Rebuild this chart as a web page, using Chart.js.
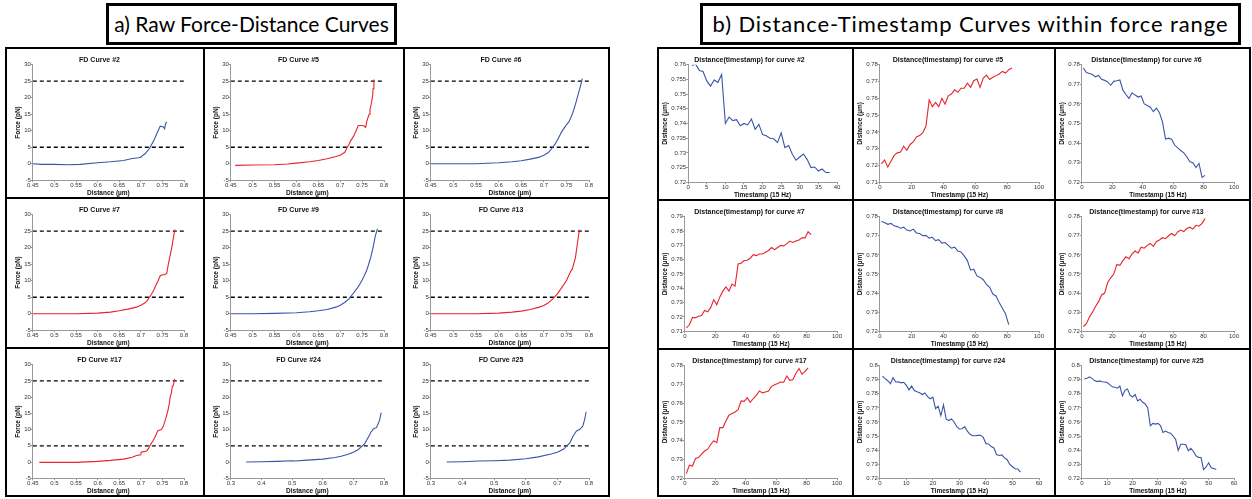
<!DOCTYPE html>
<html>
<head>
<meta charset="utf-8">
<script src="https://cdn.jsdelivr.net/npm/chart.js@4.4.1/dist/chart.umd.min.js"></script>
<style>
  body { margin: 0; background: #fff; width: 1252px; height: 499px; position: relative; overflow: hidden; }
  .head { position: absolute; top: 3px; height: 36px; border: 3px solid #000; font-family: Lato, "Open Sans", sans-serif; font-size: 21px; line-height: 36px; text-align: center; color: #000; white-space: nowrap; }
  .grid { position: absolute; top: 47px; display: grid; gap: 2px; border: 2px solid #000; background: #000; }
  .cell { background: #fff; position: relative; }
  .cell canvas { position: absolute; left: 0; top: 0; }
</style>
</head>
<body>
<div class="head" style="left:106px;width:285px">a) Raw Force-Distance Curves</div>
<div class="head" style="left:700px;width:535px;font-size:22px;letter-spacing:0.9px">b) Distance-Timestamp Curves within force range</div>
<div class="grid" id="left" style="left:5px;grid-template-columns:196px 198px 203px;grid-template-rows:148px 148px 146px"></div>
<div class="grid" id="right" style="left:657px;grid-template-columns:193px 200px 193px;grid-template-rows:150px 147px 145px"></div>
<script>
// force limits (dashed lines)
const forceLimits = [5, 25];

// raw force-distance curves: distance (um) / force (pN)
const fd2Dist = [0.45,0.47,0.50,0.53,0.56,0.60,0.63,0.66,0.68,0.695,0.70,0.705,0.71,0.715,0.72,0.725,0.73,0.735,0.74,0.745,0.75,0.752,0.755,0.757,0.76];
const fd2Force = [0,-0.2,-0.2,-0.3,-0.2,0.3,0.6,1.0,1.6,1.8,2.0,2.6,3.0,3.8,4.6,5.8,7.0,8.5,10.0,11.4,11.2,11.2,10.6,12.0,12.7];
const fd5Dist = [0.46,0.50,0.55,0.58,0.60,0.63,0.65,0.67,0.69,0.70,0.705,0.71,0.716,0.72,0.724,0.73,0.735,0.741,0.745,0.75,0.754,0.758,0.761,0.764,0.766,0.768,0.77,0.772,0.774,0.775,0.777];
const fd5Force = [-0.5,-0.4,-0.3,-0.1,0.2,0.6,1.0,1.5,2.2,2.6,3.0,3.4,5.0,5.8,7.0,8.2,9.6,11.5,11.6,11.6,11.5,11.0,13.0,14.2,15.0,16.5,17.5,19.0,20.5,22.7,25.5];
const fd6Dist = [0.45,0.50,0.55,0.60,0.63,0.65,0.67,0.69,0.70,0.71,0.72,0.725,0.73,0.735,0.74,0.745,0.75,0.755,0.76,0.765,0.77,0.773,0.776,0.78,0.783,0.785];
const fd6Force = [0,0,0,0.3,0.6,0.9,1.4,2.0,2.6,3.4,5.0,6.0,7.2,8.5,9.8,10.8,11.8,12.6,14.0,15.8,18.0,19.5,21.0,23.0,24.5,25.8];
const fd7Dist = [0.45,0.50,0.55,0.60,0.63,0.65,0.67,0.69,0.70,0.71,0.715,0.72,0.725,0.73,0.735,0.74,0.745,0.75,0.755,0.76,0.763,0.766,0.77,0.773,0.776,0.779];
const fd7Force = [0,0,0,0.2,0.5,0.9,1.4,2.0,2.6,3.3,4.0,5.0,6.0,7.2,8.6,10.0,11.5,11.8,11.8,12.2,14.5,16.5,19.0,21.0,23.5,25.5];
const fd9Dist = [0.45,0.50,0.55,0.60,0.63,0.65,0.67,0.69,0.70,0.71,0.72,0.73,0.74,0.745,0.75,0.755,0.76,0.765,0.77,0.775,0.78,0.783,0.785];
const fd9Force = [0,0,0.1,0.3,0.6,0.9,1.3,2.0,2.6,3.4,4.5,6.2,8.0,9.0,10.2,11.5,13.0,15.0,17.2,20.0,23.5,24.8,25.8];
const fd13Dist = [0.45,0.50,0.55,0.60,0.63,0.65,0.67,0.69,0.70,0.71,0.72,0.73,0.74,0.75,0.755,0.76,0.763,0.766,0.77,0.773,0.776,0.779];
const fd13Force = [0,0,0,0.2,0.5,0.8,1.3,2.0,2.5,3.3,4.5,6.0,8.0,10.0,11.5,13.0,13.5,15.0,17.0,20.0,23.0,25.5];
const fd17Dist = [0.465,0.50,0.55,0.60,0.63,0.66,0.68,0.69,0.70,0.701,0.708,0.714,0.718,0.722,0.728,0.733,0.737,0.74,0.745,0.748,0.752,0.755,0.759,0.763,0.766,0.768,0.771,0.773,0.775,0.778];
const fd17Force = [-0.1,-0.1,-0.1,0.2,0.5,0.9,1.5,2.0,2.2,3.1,3.2,3.5,4.2,5.3,6.5,7.7,9.0,9.7,9.9,10.0,11.0,12.2,14.0,16.0,18.0,20.0,21.5,23.4,23.5,25.6];
const fd24Dist = [0.35,0.40,0.45,0.50,0.51,0.55,0.60,0.64,0.66,0.683,0.70,0.715,0.725,0.737,0.745,0.753,0.757,0.761,0.765,0.77,0.775,0.778,0.782,0.786,0.789,0.791];
const fd24Force = [0,0.1,0.2,0.4,0.3,0.6,0.9,1.4,1.8,2.4,3.0,3.8,4.6,5.7,7.0,8.3,9.2,9.6,10.2,10.4,10.6,11.2,12.0,13.0,14.5,15.2];
const fd25Dist = [0.35,0.40,0.45,0.50,0.55,0.60,0.64,0.68,0.70,0.72,0.73,0.74,0.745,0.75,0.755,0.76,0.765,0.77,0.775,0.78,0.783,0.786,0.789,0.791];
const fd25Force = [0,0.1,0.3,0.4,0.6,1.0,1.6,2.5,3.0,4.0,5.0,6.0,7.0,8.0,8.8,9.5,9.8,10.0,10.5,11.0,12.0,13.0,14.5,15.5];

// distance (um) per timestamp; first sample at t = 1, sampled every `step` timestamps
const ts2 = [0.7597,0.7602,0.7580,0.7577,0.7545,0.7527,0.7548,0.7540,0.7567,0.7400,0.7422,0.7410,0.7413,0.7392,0.7400,0.7395,0.7415,0.7380,0.7397,0.7362,0.7358,0.7350,0.7348,0.7335,0.7368,0.7318,0.7325,0.7295,0.7275,0.7286,0.7296,0.7277,0.7250,0.7252,0.7238,0.7245,0.7233,0.7233];
const ts5 = [0.7210,0.7232,0.7190,0.7225,0.7260,0.7275,0.7280,0.7315,0.7290,0.7325,0.7340,0.7370,0.7378,0.7395,0.7435,0.7590,0.7550,0.7575,0.7550,0.7600,0.7565,0.7615,0.7625,0.7650,0.7636,0.7660,0.7660,0.7690,0.7665,0.7705,0.7715,0.7665,0.7720,0.7738,0.7712,0.7725,0.7735,0.7745,0.7760,0.7750,0.7770,0.7780];
const ts6 = [0.7783,0.7760,0.7755,0.7750,0.7738,0.7745,0.7725,0.7720,0.7712,0.7695,0.7715,0.7718,0.7722,0.7670,0.7648,0.7628,0.7657,0.7645,0.7635,0.7640,0.7600,0.7592,0.7583,0.7560,0.7578,0.7555,0.7508,0.7420,0.7425,0.7420,0.7390,0.7375,0.7362,0.7350,0.7330,0.7305,0.7300,0.7275,0.7296,0.7225,0.7235];
const ts7 = [0.7123,0.7145,0.7195,0.7195,0.7205,0.7210,0.7245,0.7236,0.7265,0.7320,0.7285,0.7340,0.7380,0.7410,0.7380,0.7430,0.7415,0.7570,0.7575,0.7594,0.7596,0.7610,0.7635,0.7628,0.7639,0.7640,0.7652,0.7664,0.7685,0.7670,0.7685,0.7700,0.7696,0.7712,0.7730,0.7720,0.7730,0.7738,0.7752,0.7752,0.7795,0.7775];
const ts8 = [0.7775,0.7770,0.7760,0.7765,0.7752,0.7748,0.7740,0.7745,0.7730,0.7725,0.7735,0.7715,0.7712,0.7700,0.7702,0.7688,0.7692,0.7675,0.7680,0.7662,0.7665,0.7650,0.7635,0.7640,0.7620,0.7615,0.7595,0.7570,0.7520,0.7525,0.7490,0.7482,0.7470,0.7445,0.7430,0.7395,0.7385,0.7350,0.7320,0.7290,0.7235];
const ts13 = [0.7225,0.7240,0.7275,0.7300,0.7330,0.7355,0.7390,0.7400,0.7455,0.7480,0.7500,0.7550,0.7545,0.7570,0.7590,0.7580,0.7605,0.7620,0.7610,0.7640,0.7635,0.7650,0.7660,0.7645,0.7670,0.7678,0.7690,0.7685,0.7700,0.7712,0.7700,0.7720,0.7730,0.7722,0.7738,0.7745,0.7735,0.7755,0.7750,0.7765,0.7790];
const ts17 = [0.7225,0.7270,0.7265,0.7305,0.7310,0.7328,0.7345,0.7355,0.7380,0.7400,0.7390,0.7470,0.7470,0.7505,0.7536,0.7545,0.7553,0.7565,0.7612,0.7610,0.7630,0.7605,0.7625,0.7642,0.7665,0.7655,0.7660,0.7665,0.7690,0.7699,0.7705,0.7713,0.7712,0.7745,0.7722,0.7725,0.7760,0.7785,0.7755,0.7770,0.7788];
const ts24 = [0.7926,0.7908,0.7893,0.7872,0.7915,0.7884,0.7886,0.7878,0.7882,0.7860,0.7828,0.7855,0.7824,0.7815,0.7808,0.7795,0.7806,0.7780,0.7765,0.7776,0.7695,0.7712,0.7645,0.7722,0.7620,0.7610,0.7622,0.7600,0.7566,0.7550,0.7552,0.7566,0.7535,0.7512,0.7502,0.7502,0.7505,0.7506,0.7490,0.7446,0.7444,0.7425,0.7415,0.7368,0.7362,0.7366,0.7345,0.7332,0.7298,0.7282,0.7268,0.7266,0.7244];
const ts25 = [0.7905,0.7910,0.7920,0.7910,0.7894,0.7887,0.7892,0.7886,0.7884,0.7880,0.7865,0.7850,0.7847,0.7840,0.7855,0.7785,0.7825,0.7835,0.7790,0.7778,0.7795,0.7750,0.7762,0.7740,0.7728,0.7700,0.7572,0.7590,0.7585,0.7590,0.7575,0.7525,0.7535,0.7525,0.7520,0.7500,0.7475,0.7398,0.7442,0.7442,0.7438,0.7395,0.7412,0.7390,0.7360,0.7348,0.7347,0.7262,0.7280,0.7310,0.7275,0.7270,0.7262];

const BLUE = '#3b55a6';
const RED = '#e8232b';
const FONT = '"Liberation Sans Narrow", "Liberation Sans", Arial, sans-serif';

const fdPanels = [
  { n: 2, x: fd2Dist, y: fd2Force, color: BLUE, xr: [0.45, 0.8, 0.05] },
  { n: 5, x: fd5Dist, y: fd5Force, color: RED, xr: [0.45, 0.8, 0.05] },
  { n: 6, x: fd6Dist, y: fd6Force, color: BLUE, xr: [0.45, 0.8, 0.05] },
  { n: 7, x: fd7Dist, y: fd7Force, color: RED, xr: [0.45, 0.8, 0.05] },
  { n: 9, x: fd9Dist, y: fd9Force, color: BLUE, xr: [0.45, 0.8, 0.05] },
  { n: 13, x: fd13Dist, y: fd13Force, color: RED, xr: [0.45, 0.8, 0.05] },
  { n: 17, x: fd17Dist, y: fd17Force, color: RED, xr: [0.45, 0.8, 0.05] },
  { n: 24, x: fd24Dist, y: fd24Force, color: BLUE, xr: [0.3, 0.8, 0.1] },
  { n: 25, x: fd25Dist, y: fd25Force, color: BLUE, xr: [0.3, 0.8, 0.1] }
];

const tsPanels = [
  { n: 2, y: ts2, step: 1, color: BLUE, xr: [0, 40, 5], yr: [0.72, 0.76, 0.005] },
  { n: 5, y: ts5, step: 2, color: RED, xr: [0, 100, 20], yr: [0.71, 0.78, 0.01] },
  { n: 6, y: ts6, step: 2, color: BLUE, xr: [0, 100, 20], yr: [0.72, 0.78, 0.01] },
  { n: 7, y: ts7, step: 2, color: RED, xr: [0, 100, 20], yr: [0.71, 0.79, 0.01] },
  { n: 8, y: ts8, step: 2, color: BLUE, xr: [0, 100, 20], yr: [0.72, 0.78, 0.01] },
  { n: 13, y: ts13, step: 2, color: RED, xr: [0, 100, 20], yr: [0.72, 0.78, 0.01] },
  { n: 17, y: ts17, step: 2, color: RED, xr: [0, 100, 20], yr: [0.72, 0.78, 0.01] },
  { n: 24, y: ts24, step: 1, color: BLUE, xr: [0, 60, 10], yr: [0.72, 0.8, 0.01] },
  { n: 25, y: ts25, step: 1, color: BLUE, xr: [0, 60, 10], yr: [0.72, 0.8, 0.01] }
];

const fmt = v => String(+(+v).toFixed(4));

function axis(range, label, pad) {
  return {
    type: 'linear', min: range[0], max: range[1],
    ticks: { stepSize: range[2], font: { family: FONT, size: 6, lineHeight: 1.1 }, color: '#333', padding: 0,
             maxRotation: 0, autoSkip: false, callback: fmt },
    grid: { display: true, drawOnChartArea: false, tickLength: 2, color: '#999' },
    border: { color: '#999' },
    title: { display: true, text: label, color: '#111', font: { family: FONT, size: 6.5, weight: 'bold', lineHeight: 1.1 }, padding: pad }
  };
}

function makeCell(grid) {
  const cell = document.createElement('div');
  cell.className = 'cell';
  grid.appendChild(cell);
  return cell;
}

function draw(cell, title, datasets, xAxis, yAxis, padding) {
  const c = document.createElement('canvas');
  cell.appendChild(c);
  c.width = cell.clientWidth;
  c.height = cell.clientHeight;
  new Chart(c, {
    type: 'line',
    data: { datasets },
    options: {
      responsive: false, animation: false,
      layout: { padding },
      elements: { point: { radius: 0 }, line: { tension: 0 } },
      plugins: {
        legend: { display: false }, tooltip: { enabled: false },
        title: { display: true, text: title, color: '#111', font: { family: FONT, size: 7, weight: 'bold', lineHeight: 1.1 }, padding: { top: 7, bottom: 1 } }
      },
      scales: { x: xAxis, y: yAxis }
    }
  });
}

const leftGrid = document.getElementById('left');
fdPanels.forEach(p => {
  const cell = makeCell(leftGrid);
  const pts = p.x.map((d, i) => ({ x: d, y: p.y[i] }));
  const sets = [{ data: pts, borderColor: p.color, borderWidth: 1.1 }];
  forceLimits.forEach(f => {
    sets.push({ data: [{ x: p.xr[0], y: f }, { x: p.xr[1], y: f }], borderColor: '#000', borderWidth: 1.3, borderDash: [4, 3] });
  });
  draw(cell, 'FD Curve #' + p.n, sets,
       axis(p.xr, 'Distance (\u00b5m)', { top: 1, bottom: 0 }),
       axis([-5, 30, 5], 'Force (pN)', { top: 0, bottom: 2 }),
       { left: 8, right: 19, top: 0, bottom: 0 });
});

const rightGrid = document.getElementById('right');
tsPanels.forEach(p => {
  const cell = makeCell(rightGrid);
  const pts = p.y.map((d, i) => ({ x: 1 + i * p.step, y: d }));
  draw(cell, 'Distance(timestamp) for curve #' + p.n,
       [{ data: pts, borderColor: p.color, borderWidth: 1.1 }],
       axis(p.xr, 'Timestamp (15 Hz)', { top: 1, bottom: 0 }),
       axis(p.yr, 'Distance (\u00b5m)', { top: 0, bottom: 2 }),
       { left: 3, right: 15, top: 0, bottom: 0 });
});
</script>
</body>
</html>
